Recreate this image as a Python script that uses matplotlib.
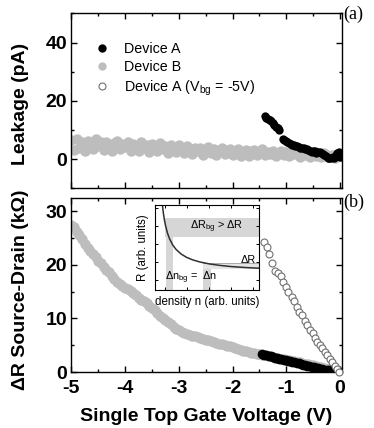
import numpy as np
import matplotlib
matplotlib.use("Agg")
import matplotlib.pyplot as plt
from matplotlib.ticker import MultipleLocator, NullFormatter

plt.rcParams['font.family'] = ['Liberation Sans', 'DejaVu Sans']
plt.rcParams['mathtext.fontset'] = 'custom'
plt.rcParams['mathtext.rm'] = 'Liberation Sans'
plt.rcParams['mathtext.it'] = 'Liberation Sans:italic'
plt.rcParams['mathtext.bf'] = 'Liberation Sans:bold'

# ---------------- data ----------------
# (a) leakage, Device B
leak_b_x = np.round(np.arange(-5.0, 0.001, 0.05), 2)
leak_b_y = [6.5, 3.2, 7.1, 4.0, 5.8, 2.9, 6.2, 5.0, 3.5, 6.8, 4.4, 5.9, 3.1, 6.0, 4.8, 2.8, 5.5, 6.3, 3.6, 5.1,
            4.2, 6.0, 3.0, 5.4, 4.6, 2.7, 5.8, 3.9, 4.9, 2.5, 5.2, 4.1, 3.0, 5.6, 3.4, 4.5, 2.2, 4.9, 3.7, 2.6,
            4.8, 3.1, 2.0, 4.4, 3.5, 1.8, 4.0, 2.9, 3.9, 1.6, 3.3, 4.2, 2.1, 3.6, 1.4, 3.0, 3.8, 1.9, 2.8, 3.4,
            1.5, 2.9, 3.6, 1.2, 2.4, 3.3, 1.0, 2.7, 3.1, 1.6, 2.2, 3.4, 1.3, 2.6, 1.9, 3.0, 1.1, 2.3, 2.8, 1.4,
            2.5, 1.0, 2.9, 1.7, 2.2, 0.8, 2.6, 1.5, 2.0, 0.9, 2.4, 1.2, 1.8, 0.7, 2.1, 1.3, 0.9, 1.6, 0.6, 1.4, 1.0]

# (a) leakage, Device A
leak_a_x = [-1.40, -1.37, -1.34, -1.31, -1.28, -1.25, -1.22, -1.19, -1.16, -1.13,
            -1.07, -1.04, -1.01, -0.98, -0.95, -0.92, -0.89, -0.86, -0.83, -0.80,
            -0.77, -0.74, -0.71, -0.68, -0.65, -0.62, -0.59, -0.56, -0.53, -0.50,
            -0.47, -0.44, -0.41, -0.38, -0.35, -0.32, -0.29, -0.26, -0.23, -0.20,
            -0.17, -0.14, -0.11, -0.08, -0.05, -0.02, 0.0]
leak_a_y = [14.9, 14.3, 13.8, 13.3, 13.0, 12.4, 11.6, 11.0, 10.6, 10.1,
            7.0, 6.6, 6.2, 5.9, 5.6, 5.3, 5.0, 4.8, 4.6, 4.4,
            4.2, 4.0, 3.8, 3.7, 3.5, 3.6, 3.2, 2.9, 2.5, 2.9,
            2.7, 2.2, 2.4, 2.6, 2.1, 1.7, 1.4, 1.0, 0.6, 0.3,
            0.4, 0.8, 0.6, 1.4, 2.2, 2.6, 0.8]

# (b) delta R, Device B
dr_b_x = np.round(np.arange(-5.0, 0.001, 0.05), 2)
dr_b_y = [27.5, 27.0, 26.2, 25.6, 24.8, 23.9, 23.2, 22.6, 22.1, 21.4,
          20.8, 20.3, 19.6, 19.0, 18.6, 17.9, 17.3, 16.9, 16.5, 16.0,
          15.7, 15.5, 15.2, 14.8, 14.3, 13.9, 13.5, 13.2, 12.8, 12.4,
          12.0, 11.5, 11.0, 10.5, 10.1, 9.7, 9.3, 8.9, 8.5, 8.1,
          7.8, 7.5, 7.3, 7.1, 6.9, 6.8, 6.7, 6.5, 6.4, 6.2,
          6.0, 5.9, 5.8, 5.6, 5.5, 5.3, 5.2, 5.0, 4.9, 4.8,
          4.6, 4.5, 4.3, 4.2, 4.0, 3.9, 3.8, 3.6, 3.5, 3.4,
          3.3, 3.2, 3.1, 3.0,
          2.9, 2.8, 2.7, 2.6, 2.5, 2.4, 2.3, 2.2, 2.1, 2.0,
          1.9, 1.8, 1.7, 1.55, 1.45, 1.35, 1.25, 1.1, 1.0, 0.9,
          0.8, 0.65, 0.5, 0.4, 0.3, 0.15, 0.0]

# (b) delta R, Device A
dr_a_x = [-1.45, -1.41, -1.37, -1.33, -1.29, -1.25, -1.21, -1.17, -1.13, -1.09,
          -1.05, -1.01, -0.97, -0.93, -0.89, -0.85, -0.81, -0.77, -0.73, -0.69,
          -0.65, -0.61, -0.57, -0.53, -0.49, -0.45, -0.41, -0.37, -0.33, -0.29,
          -0.25, -0.21, -0.17, -0.13, -0.09, -0.05, -0.01]
dr_a_y = [3.3, 3.2, 3.1, 3.0, 2.9, 2.8, 2.7, 2.6, 2.5, 2.4,
          2.3, 2.2, 2.1, 2.0, 1.9, 1.8, 1.7, 1.6, 1.5, 1.4,
          1.3, 1.2, 1.1, 1.0, 0.9, 0.8, 0.75, 0.65, 0.55, 0.45,
          0.4, 0.3, 0.25, 0.15, 0.1, 0.05, 0.0]

# (b) delta R, Device A (Vbg = -5V)
dr_bg_x = [-1.41, -1.36, -1.32, -1.26, -1.21, -1.15, -1.10, -1.06, -1.01, -0.96,
           -0.90, -0.86, -0.81, -0.77, -0.70, -0.65, -0.61, -0.56, -0.51, -0.47,
           -0.42, -0.38, -0.33, -0.28, -0.24, -0.19, -0.15, -0.10, -0.06, -0.02]
dr_bg_y = [24.2, 23.4, 22.0, 20.3, 18.8, 18.5, 18.0, 16.8, 15.8, 15.0,
           14.0, 13.2, 12.2, 11.3, 10.6, 9.6, 8.8, 7.9, 7.2, 6.4,
           5.6, 5.0, 4.4, 3.7, 3.1, 2.5, 1.9, 1.2, 0.5, 0.0]

# inset schematic curve (axes fractions)
inset_n = [0.062, 0.07, 0.08, 0.09, 0.10, 0.12, 0.14, 0.17, 0.20, 0.25, 0.30, 0.36,
           0.43, 0.52, 0.62, 0.73, 0.86, 1.0]
inset_r = [1.116, 1.01, 0.907, 0.827, 0.764, 0.669, 0.601, 0.53, 0.48, 0.424, 0.386, 0.355,
           0.33, 0.307, 0.29, 0.276, 0.265, 0.256]

legend_labels = ['Device A', 'Device B', r'Device A (V$_{\mathrm{bg}}$ = -5V)']
GRAY = '#bdbdbd'
FS = 14

# ---------------- figure ----------------
fig = plt.figure(figsize=(3.74, 4.28), dpi=100)
axL = 0.191
axW = 0.7225
ax1 = fig.add_axes([axL, 0.5596, axW, 0.4093])
ax2 = fig.add_axes([axL, 0.1308, axW, 0.4066])


def style(ax):
    ax.tick_params(which='both', direction='in', top=True, right=True, width=1.0)
    ax.tick_params(which='major', length=4, labelsize=FS)
    ax.tick_params(axis='y', which='major', pad=3)
    ax.tick_params(axis='x', which='major', pad=6)
    ax.tick_params(which='minor', length=2.5)
    for s in ax.spines.values():
        s.set_linewidth(1.0)
    for lab in ax.get_xticklabels() + ax.get_yticklabels():
        lab.set_fontweight('bold')


# panel (a)
ax1.plot(leak_b_x, leak_b_y, 'o', color=GRAY, ms=7.5, mec='none', zorder=2)
ax1.plot(leak_a_x, leak_a_y, 'o', color='black', ms=6, mec='none', zorder=3)
ax1.set_xlim(-5.0, 0.03)
ax1.set_ylim(-10, 50)
ax1.xaxis.set_major_locator(MultipleLocator(1))
ax1.xaxis.set_minor_locator(MultipleLocator(0.5))
ax1.yaxis.set_major_locator(MultipleLocator(20))
ax1.yaxis.set_minor_locator(MultipleLocator(10))
ax1.xaxis.set_major_formatter(NullFormatter())
ax1.set_yticks([0, 20, 40])
style(ax1)
ax1.set_ylabel('Leakage (pA)', fontsize=FS, fontweight='bold')
ax1.yaxis.set_label_coords(-0.158, 0.48)

h1, = ax1.plot([], [], 'o', color='black', ms=6, mec='none')
h2, = ax1.plot([], [], 'o', color=GRAY, ms=6, mec='none')
h3, = ax1.plot([], [], 'o', mfc='white', mec='#707070', ms=5, mew=0.8)
ax1.legend([h1, h2, h3], legend_labels, loc='upper left', bbox_to_anchor=(0.05, 0.895),
           frameon=False, fontsize=10.3, handletextpad=1.0, labelspacing=0.3,
           handlelength=1.0, borderpad=0.2)
fig.text(0.918, 0.966, '(a)', family='Liberation Serif', fontsize=13, va='center', ha='left')

# panel (b)
ax2.plot(dr_b_x, dr_b_y, 'o', color=GRAY, ms=7.5, mec='none', zorder=2)
ax2.plot(dr_a_x, dr_a_y, 'o', color='black', ms=7, mec='none', zorder=3)
ax2.plot(dr_bg_x, dr_bg_y, 'o', mfc='white', mec='#707070', ms=5, mew=0.8, zorder=4,
         clip_on=False)
ax2.set_xlim(-5.0, 0.03)
ax2.set_ylim(0, 32.5)
ax2.xaxis.set_major_locator(MultipleLocator(1))
ax2.xaxis.set_minor_locator(MultipleLocator(0.5))
ax2.yaxis.set_major_locator(MultipleLocator(10))
ax2.yaxis.set_minor_locator(MultipleLocator(5))
style(ax2)
ax2.set_xticks([-5, -4, -3, -2, -1, 0])
ax2.set_xticklabels(['-5', '-4', '-3', '-2', '-1', '0'], fontweight='bold', fontsize=FS)
ax2.set_ylabel('ΔR Source-Drain (kΩ)', fontsize=FS, fontweight='bold')
ax2.yaxis.set_label_coords(-0.158, 0.47)
ax2.set_xlabel('Single Top Gate Voltage (V)', fontsize=FS, fontweight='bold')
ax2.xaxis.set_label_coords(0.5, -0.205)
fig.text(0.918, 0.527, '(b)', family='Liberation Serif', fontsize=13, va='center', ha='left')

# inset
axi = fig.add_axes([0.4144, 0.3224, 0.279, 0.1986])
axi.set_xlim(0, 1)
axi.set_ylim(0, 1)
band = '#d6d6d6'
axi.fill_between([0.10, 1.0], 0.627, 0.851, color=band, lw=0)
axi.fill_between([0.105, 0.17], 0, 0.627, color=band, lw=0)
axi.fill_between([0.463, 0.537], 0, 0.31, color=band, lw=0)
axi.fill_between([0.46, 1.0], 0.25, 0.314, color='#e6e6e6', lw=0)
axi.plot([0.46, 1.0], [0.314, 0.314], color='#a0a0a0', lw=0.6)
axi.plot(inset_n, inset_r, color='#303030', lw=1.1)
axi.text(0.59, 0.74, r'ΔR$_{\mathrm{bg}}$ > ΔR', fontsize=7.8, ha='center', va='center')
axi.text(0.97, 0.30, 'ΔR', fontsize=7.8, ha='right', va='bottom')
axi.text(0.10, 0.14, r'Δn$_{\mathrm{bg}}$ =  Δn', fontsize=7.8, ha='left', va='center')
axi.set_xticks([0.1, 0.31, 0.52, 0.73, 0.94])
axi.set_yticks([0.12, 0.33, 0.54, 0.75, 0.96])
axi.xaxis.set_major_formatter(NullFormatter())
axi.yaxis.set_major_formatter(NullFormatter())
axi.tick_params(direction='in', length=2, width=0.7, top=True, right=True)
for s in axi.spines.values():
    s.set_linewidth(0.8)
axi.set_xlabel('density n (arb. units)', fontsize=8.3, labelpad=1)
axi.set_ylabel('R (arb. units)', fontsize=8.3, labelpad=1)

fig.savefig('out.png', dpi=100)
